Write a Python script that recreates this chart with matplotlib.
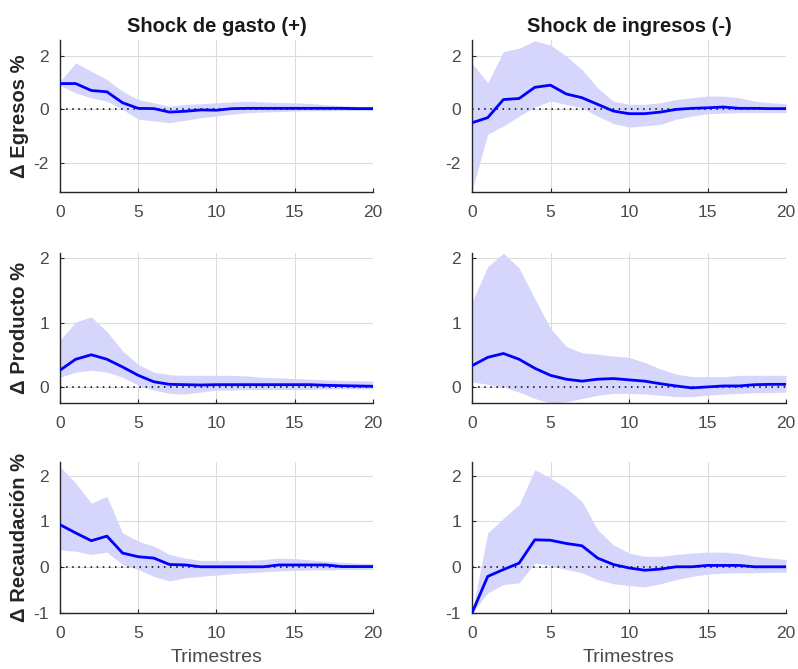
import numpy as np
import matplotlib.pyplot as plt

plt.rcParams['font.family'] = ['Liberation Sans', 'DejaVu Sans']
plt.rcParams['axes.unicode_minus'] = False

t = np.arange(0, 21)

# shock de gasto (+)
egr_g = [0.97, 0.97, 0.71, 0.66, 0.25, 0.04, 0.03, -0.1, -0.07, -0.02, -0.03,
         0.03, 0.04, 0.04, 0.04, 0.04, 0.04, 0.04, 0.04, 0.03, 0.03]
egr_g_hi = [1.05, 1.75, 1.43, 1.12, 0.68, 0.37, 0.25, 0.12, 0.19, 0.21, 0.25,
            0.28, 0.31, 0.28, 0.26, 0.25, 0.22, 0.18, 0.14, 0.11, 0.09]
egr_g_lo = [0.9, 0.62, 0.43, 0.31, 0.0, -0.37, -0.43, -0.5, -0.41, -0.31, -0.25,
            -0.18, -0.12, -0.1, -0.08, -0.06, -0.05, -0.05, -0.04, -0.04, -0.04]

prod_g = [0.26, 0.43, 0.5, 0.43, 0.31, 0.18, 0.08, 0.04, 0.035, 0.03, 0.035,
          0.035, 0.035, 0.035, 0.035, 0.035, 0.035, 0.025, 0.02, 0.015, 0.01]
prod_g_hi = [0.73, 1.01, 1.09, 0.86, 0.56, 0.35, 0.23, 0.19, 0.18, 0.18, 0.18,
             0.18, 0.17, 0.15, 0.14, 0.13, 0.12, 0.11, 0.1, 0.1, 0.09]
prod_g_lo = [0.15, 0.23, 0.26, 0.23, 0.15, 0.03, -0.05, -0.1, -0.11, -0.08, -0.05,
             -0.05, -0.04, -0.04, -0.04, -0.04, -0.04, -0.03, -0.03, -0.03, -0.03]

rec_g = [0.93, 0.75, 0.58, 0.68, 0.31, 0.23, 0.2, 0.06, 0.05, 0.01, 0.01,
         0.01, 0.01, 0.01, 0.05, 0.05, 0.05, 0.05, 0.015, 0.015, 0.015]
rec_g_hi = [2.2, 1.84, 1.4, 1.55, 0.75, 0.57, 0.46, 0.28, 0.2, 0.15, 0.15,
            0.15, 0.15, 0.17, 0.2, 0.19, 0.16, 0.13, 0.11, 0.09, 0.08]
rec_g_lo = [0.38, 0.35, 0.28, 0.33, 0.06, -0.05, -0.2, -0.3, -0.23, -0.2, -0.17,
            -0.14, -0.12, -0.1, -0.08, -0.07, -0.06, -0.06, -0.05, -0.05, -0.05]

# shock de ingresos (-)
egr_i = [-0.5, -0.31, 0.37, 0.41, 0.83, 0.91, 0.58, 0.44, 0.19, -0.06, -0.16,
         -0.16, -0.1, 0.0, 0.04, 0.06, 0.09, 0.04, 0.04, 0.03, 0.03]
egr_i_hi = [1.74, 1.0, 2.17, 2.3, 2.57, 2.42, 2.0, 1.5, 0.81, 0.31, 0.19,
            0.19, 0.25, 0.37, 0.44, 0.5, 0.5, 0.44, 0.31, 0.25, 0.21]
egr_i_lo = [-3.04, -0.93, -0.62, -0.25, 0.09, 0.31, 0.19, 0.06, -0.25, -0.53, -0.66,
            -0.62, -0.56, -0.37, -0.25, -0.16, -0.14, -0.12, -0.12, -0.12, -0.12]

prod_i = [0.33, 0.46, 0.52, 0.43, 0.29, 0.18, 0.12, 0.09, 0.12, 0.13, 0.11,
          0.09, 0.05, 0.015, -0.015, 0.0, 0.015, 0.015, 0.035, 0.04, 0.04]
prod_i_hi = [1.32, 1.87, 2.08, 1.85, 1.37, 0.91, 0.63, 0.53, 0.51, 0.48, 0.46,
             0.38, 0.28, 0.2, 0.16, 0.16, 0.16, 0.18, 0.18, 0.18, 0.18]
prod_i_lo = [0.08, 0.04, 0.0, -0.08, -0.18, -0.25, -0.23, -0.18, -0.13, -0.1, -0.1,
             -0.11, -0.13, -0.15, -0.15, -0.13, -0.11, -0.1, -0.09, -0.09, -0.08]

rec_i = [-1.0, -0.2, -0.05, 0.09, 0.6, 0.59, 0.52, 0.47, 0.2, 0.06, -0.015,
         -0.065, -0.04, 0.01, 0.01, 0.04, 0.04, 0.04, 0.01, 0.01, 0.01]
rec_i_hi = [-1.0, 0.75, 1.07, 1.37, 2.13, 1.95, 1.73, 1.44, 0.82, 0.49, 0.31,
            0.24, 0.24, 0.28, 0.31, 0.33, 0.33, 0.3, 0.24, 0.2, 0.17]
rec_i_lo = [-1.0, -0.56, -0.38, -0.34, 0.09, 0.04, -0.05, -0.12, -0.27, -0.36, -0.4,
            -0.43, -0.36, -0.27, -0.2, -0.15, -0.13, -0.12, -0.12, -0.11, -0.11]

titles = ['Shock de gasto (+)', 'Shock de ingresos (-)']
ylabels = ['\u0394 Egresos %', '\u0394 Producto %', '\u0394 Recaudación %']
ylims = [(-3.1, 2.6), (-0.25, 2.08), (-1.0, 2.3)]
yticks = [[-2, 0, 2], [0, 1, 2], [-1, 0, 1, 2]]

panels = [
    [(egr_g, egr_g_lo, egr_g_hi), (egr_i, egr_i_lo, egr_i_hi)],
    [(prod_g, prod_g_lo, prod_g_hi), (prod_i, prod_i_lo, prod_i_hi)],
    [(rec_g, rec_g_lo, rec_g_hi), (rec_i, rec_i_lo, rec_i_hi)],
]

fig = plt.figure(figsize=(7.98, 6.69), dpi=100)
lefts = [0.0752, 0.5915]
widths = [0.392, 0.3935]
bottoms = [0.713, 0.3976, 0.0837]
heights = [0.227, 0.224, 0.2257]

tick_col = '#4a4a4a'
for r in range(3):
    for c in range(2):
        ax = fig.add_axes([lefts[c], bottoms[r], widths[c], heights[r]])
        irf, lo, hi = panels[r][c]
        ax.fill_between(t, lo, hi, color='#d6d6fd', linewidth=0, zorder=1)
        ax.plot(t, irf, color='#0000ff', lw=2, zorder=3)
        ax.plot(t, np.zeros_like(t), color='k', ls=(0, (1, 3)), lw=1.1, zorder=2)
        ax.set_xlim(0, 20)
        ax.set_ylim(*ylims[r])
        ax.set_xticks([0, 5, 10, 15, 20])
        ax.set_yticks(yticks[r])
        ax.grid(True, color='#dcdcdc', lw=0.8, zorder=0)
        ax.set_axisbelow(True)
        for s in ['top', 'right']:
            ax.spines[s].set_visible(False)
        for s in ['left', 'bottom']:
            ax.spines[s].set_color('#262626')
            ax.spines[s].set_linewidth(1.0)
        ax.tick_params(direction='in', length=3, width=0.8, colors='#262626',
                       labelcolor=tick_col, labelsize=12.5)
        ax.tick_params(axis='x', pad=9)
        ax.tick_params(axis='y', pad=8)
        if r == 0:
            ax.set_title(titles[c], fontsize=14.5, fontweight='bold',
                         color='#1a1a1a', pad=6)
        if c == 0:
            ax.set_ylabel(ylabels[r], fontsize=14.5, fontweight='bold',
                          color='#262626')
            ax.yaxis.set_label_coords(-0.1, 0.5)
        if r == 2:
            ax.set_xlabel('Trimestres', fontsize=14, color=tick_col, labelpad=6)

fig.savefig('out.png', dpi=100)
